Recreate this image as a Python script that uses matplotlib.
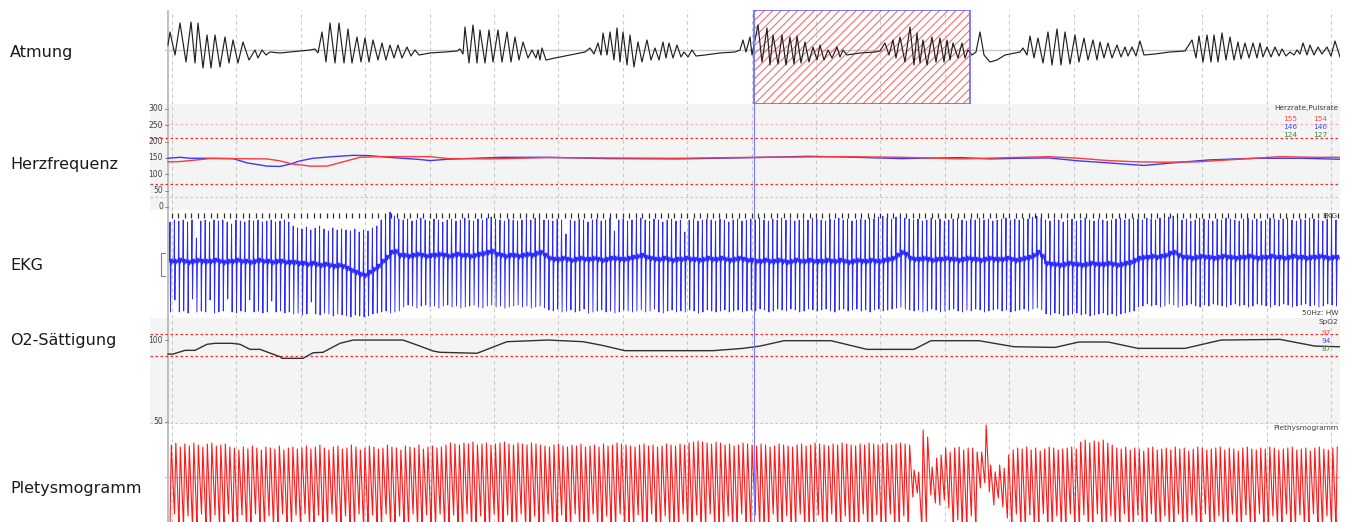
import matplotlib
matplotlib.use("Agg")
import matplotlib.pyplot as plt
import numpy as np
from matplotlib.patches import Rectangle

plt.rcParams['font.family'] = ['DejaVu Sans']
plt.rcParams['hatch.linewidth'] = 0.7

# ---------------- data (time axis in display samples) ----------------
panel_names = ["Atmung", "Herzfrequenz", "EKG", "O2-Sättigung", "Pletysmogramm"]

# respiration extrema (time, amplitude)
resp_t = [0,2,7,12,18,23,27,30,35,39,43,47,52,57,61,65,70,75,81,87,90,94,98,102,112,122,132,142,
          147,150,154,158,162,167,171,176,180,184,189,193,197,201,205,210,214,218,222,226,230,234,239,243,247,251,262,277,289,
          292,295,297,301,305,309,312,317,321,325,330,334,339,343,347,351,355,360,364,368,370,372,374,378,387,402,417,
          422,426,430,433,435,439,442,446,449,452,455,459,462,466,470,474,479,483,487,491,495,498,501,505,509,513,516,520,524,528,537,552,567,
          572,575,578,582,584,
          590,594,599,602,605,610,614,618,622,626,629,633,637,641,645,649,652,656,660,664,669,672,675,679,692,707,712,
          717,721,725,728,732,737,742,746,749,752,755,759,764,768,772,776,779,782,785,790,794,797,800,804,
          808,812,816,822,829,837,847,852,
          855,859,862,866,870,875,880,884,889,893,897,902,907,911,916,920,925,929,932,936,940,944,949,953,957,960,964,968,972,976,987,1002,1017,
          1024,1028,1031,1035,1039,1043,1046,1050,1054,1058,1062,1066,1070,1073,1077,1081,1085,1089,1092,1095,1099,1103,1107,1111,1114,1118,1122,1126,1129,1132,1135,1139,1142,1146,1150,1154,1159,1163,1167,1172]
resp_v = [5,18,-5,27,-12,28,-13,27,-18,15,-18,15,-17,13,-13,10,-13,8,-10,0,-8,0,-5,-2,-3,-2,-1,0,
          1,-3,18,-12,27,-13,27,-13,21,-13,13,-12,12,-12,10,-10,7,-10,5,-8,5,-8,3,-6,0,-5,-3,-2,-1,
          1,-4,23,-13,25,-13,20,-13,20,-12,20,-12,18,-12,13,-10,8,-8,0,-8,0,-10,2,-10,-8,-5,-2,
          2,-4,7,-5,17,-5,18,-10,22,-12,18,-15,15,-17,8,-12,10,-10,2,-10,8,-8,7,-8,5,-7,-2,-7,0,-6,-5,-3,-2,
          0,10,-2,13,-5,
          25,-12,22,-15,15,-14,15,-15,13,-14,14,-13,8,-12,3,-10,5,-10,0,-8,3,-7,0,-5,-3,-2,-1,
          7,-5,10,-8,13,-12,23,-15,17,-13,10,-15,13,-12,12,-12,10,-10,7,-8,7,-8,0,-5,
          -2,18,-5,-12,-10,-5,-3,-2,
          2,-5,14,-8,12,-13,18,-15,21,-15,18,-14,15,-12,12,-10,10,-10,8,-8,7,-8,5,-7,3,-6,3,-6,9,-5,-4,-2,-1,
          10,-8,14,-12,15,-12,15,-12,17,-10,13,-10,8,-9,7,-8,7,-8,7,-7,3,-7,3,-6,1,-6,-2,-5,0,-4,7,-5,5,-5,3,-4,3,-6,9,-7]

# heart rate (EKG-derived, blue) and pulse rate (red), bpm
hr_t = [0,12,22,45,65,79,99,112,122,132,145,165,185,202,212,229,249,262,280,333,380,439,510,586,640,675,734,793,822,852,881,911,940,976,1005,1041,1088,1135,1172]
hr_v = [149,152,149,149,148,135,125,124,131,141,149,154,158,157,154,150,146,142,146,152,152,148,147,151,155,153,148,151,147,149,150,141,135,127,135,144,149,149,146]
pr_t = [0,12,29,42,65,99,112,125,135,142,159,175,192,212,239,262,280,321,380,439,510,586,640,675,734,793,828,881,911,940,970,999,1029,1076,1112,1147,1172]
pr_v = [138,139,144,148,148,147,141,131,128,125,125,138,152,154,154,154,148,147,151,150,149,152,153,154,152,147,150,154,149,142,138,137,138,147,154,152,152]
hr_limits = [210, 70]
hr_soft_limits = [255, 30]
hr_ticks = [0, 50, 100, 150, 200, 250, 300]
hr_stats = [("155", "154", "#ff4a4a"), ("146", "146", "#4a4aff"), ("124", "127", "#3a8a3a")]

# EKG per beat: R top, S bottom, baseline level
ekg_top = ([42,44,43,44,42,44,26,43,44,42,44,43,44,42,40,44,43,42,44,43,44,42,43,44,42,43,44,42]
           + [38,36,35,37,34,36,38,35,33,36,34,35]
           + [34,33,35,32,34,33,36,38]
           + [44,46,52,48,45]
           + [44,45,43,44,46,44,43,45,44,42,44,45,43,44,46,44,43,45,44,46,47,45,44,43,45,44,43,44,45,44,46,47,44]
           + [44,43,45,44,30,44,43,45,44,42,44,45,43,44,46,33,44,45,43,44,45,46,44,43,45,44,42,44,45,43,
              44,32,44,45,43,44,45,44,43,45,44,42,44,45,43,44]
           + [45,44,46,44,43,45,44,46,44,45,43,44,45,44,46,45,44,43,45,44,46,44,45,43,44,45,44,46,45,47,48,46,45]
           + [47,48,46,45]
           + [44,45,43,44,46,44,45,43,44,45,46,44,43,45,44,46,44,45,43,44,45,46,44,45,44,46,45]
           + [47,48,46]
           + [44,43,45,44,42,44,45,43,44,46,44,43,45,44,43,44,45,46,44,45,46]
           + [45,44,46,45,44,46,45,47,48,46,44,45,43,44,46,45,44,43,45,44,46,45,44,43,45,46,44,45,43,44,
              46,45,44,45,46,44,43,45,44,46,45,44,43,45,46,44])
ekg_bot = ([-48,-36,-48,-47,-49,-35,-48,-47,-48,-36,-49,-48,-47,-35,-48,-49,-47,-48,-36,-48,-47,-49,-48,-37,-48,-47,-49,-48]
           + [-50,-49,-51,-50,-38,-50,-51,-49,-50,-52,-50,-51]
           + [-52,-53,-51,-52,-53,-52,-50,-49]
           + [-48,-47,-49,-48,-47]
           + [-43,-41,-42,-44,-42,-41,-43,-42,-44,-42,-41,-43,-42,-44,-43,-42,-41,-43,-44,-42,-41,-43,-42,-44,-43,-42,-41,-43,-42,-44,-43,-42,-44]
           + [-46,-47,-45,-48,-47,-46,-48,-47,-45,-49,-48,-47,-46,-48,-47,-49,-48,-46,-47,-48,-47,-46,-48,-47,-45,-48,-49,-47,-46,-48,
              -47,-48,-46,-47,-49,-48,-46,-47,-48,-47,-46,-48,-47,-46,-48,-47]
           + [-46,-47,-45,-46,-48,-47,-45,-46,-47,-45,-46,-48,-47,-45,-46,-47,-46,-45,-47,-48,-46,-45,-47,-46,-45,-47,-46,-48,-46,-45,-47,-46,-45]
           + [-44,-43,-45,-46]
           + [-47,-46,-48,-47,-45,-46,-48,-47,-46,-45,-47,-48,-46,-47,-45,-46,-48,-47,-46,-45,-47,-46,-48,-47,-46,-45,-47]
           + [-45,-44,-46]
           + [-50,-51,-49,-50,-52,-51,-50,-49,-51,-50,-52,-51,-50,-49,-51,-50,-52,-50,-49,-48,-47]
           + [-43,-42,-40,-42,-41,-43,-42,-40,-41,-43,-42,-41,-40,-42,-43,-41,-42,-40,-41,-42,-43,-41,-40,-42,-41,-43,-42,-40,-41,-42,
              -43,-41,-42,-40,-41,-43,-42,-41,-40,-42,-41,-43,-42,-40,-41,-42])
ekg_base = ([2,2,3,2,1,2,3,2,2,2,3,2,1,2,2,3,2,2,1,2,3,2,2,1,2,2,1,1]
            + [1,0,0,-1,0,-1,-2,-1,-2,-3,-2,-3]
            + [-5,-7,-9,-11,-12,-9,-6,-3]
            + [2,6,11,12,8]
            + [8,7,8,9,8,7,8,8,9,8,7,8,9,8,8,7,8,9,10,11,12,9,8,7,8,8,7,8,9,8,10,11,8]
            + [5,4,4,5,4,3,4,5,4,4,5,4,3,4,5,5,4,4,5,6,7,8,6,5,4,4,5,4,3,4,4,5,4,4,3,4,5,4,4,5,4,3,4,5,4,3]
            + [3,2,2,3,2,2,3,2,1,2,3,2,2,3,2,2,2,3,2,2,3,2,1,2,3,2,2,3,2,2,3,4,5]
            + [8,11,9,5]
            + [4,4,5,4,3,4,4,5,4,4,3,4,5,4,4,3,4,5,4,4,4,5,4,3,4,5,6]
            + [8,11,7]
            + [0,-1,-1,-2,-1,0,-1,-1,-2,-1,0,-1,-1,-1,0,-1,-2,-1,0,1,3]
            + [5,6,6,7,6,7,8,10,11,8,6,6,5,6,7,6,6,5,6,7,6,6,5,6,6,7,6,5,6,6,7,6,6,5,6,7,6,6,5,6,6,7,6,5,6,6])
ekg_span = (2, 1168)

# SpO2 (%)
spo2_t = [0,5,17,27,39,47,64,72,82,92,112,114,135,145,155,172,185,235,252,265,272,309,339,380,415,433,457,545,575,592,
          616,663,699,746,763,811,846,887,911,940,970,1017,1053,1112,1147,1172]
spo2_v = [91.4,91.4,93.7,93.7,97.4,98.0,98.0,97.4,94.3,94.3,89.8,88.8,88.8,92.2,92.5,98.0,100,100,96.3,93.3,
          92.5,91.9,99.0,100,99.0,96.9,93.5,93.5,94.9,96.3,99.6,99.6,94.3,94.3,99.6,99.6,95.9,95.5,98.8,98.8,
          94.9,94.9,100,100.4,96.3,95.9]
spo2_limits = [103.7, 90.2]
spo2_ticks = [50, 100]
spo2_stats = [("97", "#ff4a4a"), ("94", "#4a4aff"), ("87", "#3a8a3a")]

# plethysmogram per pulse: peak and trough
pleth_top = ([33,35,31,34,32,35,33,31,34,35,32,33,34,31]
             + [30,28,31,29,32,30,28,31,30,29,32,28,30,31,29]
             + [30,32,29,31,33,30,28,31,32,29,30,33,31,28,30,32,31,29,30,33,31,30,28,32,31,30,33,29,31,32,30,31]
             + [33,35,34,33,35,34,36,33,34,35,33,34,35,36,34,33,35,34,33,35,34,33]
             + [32,31,33,34,32,31,33,32,34,31,32,33,31,34,32,33,35,34,33,32,31,33,34,32,33,31,32,34,33,32,
                34,33,35,36,37,36,35,34,36,35,33,34,32,33,35,34,33,32,34,33,31,32,34,33,32,31,33,34,32,33,
                35,34,33,32,34,33,35,34,33,32,34,33,35,34,33,34,35,33,34,35,34,33]
             + [8,6,48,41,11,20,23,30,26,30,31,28,30,30,26,26,53,13,6,13,10,23]
             + [28,30,29,31,28,30,27,29,31,30,28,29,30,31,29,36,38,35,37,36,38,35,33,30,29,31,28,30,29,27,
                30,31,28,29,30,28,31,29,30,27,29,31,30,28,29,30,31,28,30,29,27,30,31,29,28,30,29,31,30,28,
                29,30,31,28,29,30,27,30,31,29,28,30,31])
pleth_bot = ([-50,-36,-50,-50,-38,-50,-50,-36,-50,-50,-37,-50,-50,-36]
             + [-50,-50,-37,-50,-50,-36,-50,-50,-38,-50,-50,-36,-50,-50,-37]
             + [-50,-36,-50,-50,-37,-50,-50,-36,-50,-50,-38,-50,-50,-36,-50,-50,-37,-50,-50,-36,-50,-50,-38,-50,-50,-36,-50,-50,-37,-50,-50,-36]
             + [-50,-50,-37,-50,-50,-36,-50,-50,-38,-50,-50,-36,-50,-50,-37,-50,-50,-36,-50,-50,-38,-50]
             + [-50,-36,-50,-50,-37,-50,-50,-36,-50,-50,-50,-36,-50,-50,-38,-50,-50,-36,-50,-50,
                -50,-37,-50,-50,-36,-50,-50,-38,-50,-50,-50,-36,-50,-50,-37,-50,-50,-36,-50,-50,
                -50,-38,-50,-50,-36,-50,-50,-37,-50,-50,-50,-36,-50,-50,-38,-50,-50,-36,-50,-50,
                -50,-37,-50,-50,-36,-50,-50,-38,-50,-50,-50,-36,-50,-50,-37,-50,-50,-36,-50,-50,-38,-50]
             + [-19,-15,-50,-45,-17,-25,-27,-22,-30,-50,-42,-50,-50,-38,-50,-10,-5,-14,-27,-20,-29,-40]
             + [-50,-36,-50,-50,-37,-50,-50,-36,-50,-50,-38,-50,-50,-36,-50,-50,-37,-50,-50,-36,
                -50,-50,-38,-50,-50,-36,-50,-50,-37,-50,-50,-36,-50,-50,-38,-50,-50,-36,-50,-50,
                -37,-50,-50,-36,-50,-50,-38,-50,-50,-36,-50,-50,-37,-50,-50,-36,-50,-50,-38,-50,
                -50,-36,-50,-50,-37,-50,-50,-36,-50,-50,-38,-50,-50])
pleth_span = (2, 1168)

selection = (586, 802)       # hatched scoring window
cursor_t = 586

# ---------------- layout ----------------
W, H = 1348, 522
fig = plt.figure(figsize=(W / 100, H / 100), dpi=100)
fig.patch.set_facecolor("white")
GRID_C = "#c9c9c9"
BG = "#f4f4f4"
grid_pos = np.arange(4, 1172, 64.4)
sec_ticks = np.arange(4, 1172, 6.44)


def make_ax(top, bottom, bg, ylim):
    ax = fig.add_axes([150 / W, 1 - bottom / H, 1190 / W, (bottom - top) / H])
    ax.set_facecolor(bg)
    ax.set_xlim(-18, 1172)
    ax.set_ylim(*ylim)
    for s in ax.spines.values():
        s.set_visible(False)
    ax.set_xticks([])
    ax.set_yticks([])
    for g in grid_pos:
        ax.axvline(g, color=GRID_C, lw=0.8, ls=(0, (3, 3)), zorder=0.5)
    ax.axvline(0, color="#b4b4b4", lw=1.2, zorder=0.6)
    return ax


ax1 = make_ax(10, 104, "white", (-54, 40))
ax2 = make_ax(104, 210, BG, (-9.2, 315))
ax3 = make_ax(210, 318, "white", (-54, 54))
ax4 = make_ax(318, 424, BG, (48.6, 113.5))
ax5 = make_ax(424, 522, "white", (-44, 54))

# ---- Atmung ----
ax1.plot([-3, 1172], [0, 0], color="#c8c8c8", lw=1, zorder=0.7)
ax1.plot(resp_t, resp_v, color="#202020", lw=0.85, zorder=3, solid_joinstyle="round")
ax1.add_patch(Rectangle((selection[0], -54), selection[1] - selection[0], 94,
                        fill=False, hatch="////", edgecolor="#ff5a5a", lw=0, zorder=2))
ax1.add_patch(Rectangle((selection[0], -53.5), selection[1] - selection[0], 93.5,
                        fill=False, edgecolor="#5a5aff", lw=1.1, zorder=4))

# ---- Herzfrequenz ----
for v in hr_soft_limits:
    ax2.axhline(v, color="#ffb4b4", lw=0.9, ls=(0, (2, 2)), zorder=1)
for v in hr_limits:
    ax2.axhline(v, color="#ff2a2a", lw=0.9, ls=(0, (2, 2)), zorder=1)
for v in hr_ticks:
    ax2.text(-5, v, str(v), ha="right", va="center", fontsize=5.5, color="#404040")
    ax2.plot([-3, 0], [v, v], color="#808080", lw=0.6)
ax2.plot(hr_t, hr_v, color="#3a3aff", lw=1.0, zorder=3)
ax2.plot(pr_t, pr_v, color="#ff3a3a", lw=1.0, zorder=3)

# ---- EKG ----
n_beats = len(ekg_top)
beat_t = np.linspace(ekg_span[0], ekg_span[1], n_beats)
ex, ey = [], []
for t, top, bot, b in zip(beat_t, ekg_top, ekg_bot, ekg_base):
    ex += [t - 0.5, t, t + 0.5, t + 1.1, t + 1.8, t + 2.6, t + 3.4]
    ey += [b, top, bot, b + 3, b - 2, b + 3, b - 1]
ax3.plot(ex, ey, color="#2a2aff", lw=0.65, zorder=3)
ax3.vlines(sec_ticks, 46, 51, color="#303030", lw=0.9, zorder=4)
ax3.plot([-3, -7.5, -7.5, -3], [-12, -12, 11, 11], color="#808080", lw=0.8)

# ---- O2-Sättigung ----
ax4.axhline(spo2_limits[0], color="#ff2a2a", lw=0.9, ls=(0, (2, 2)), zorder=1)
ax4.axhline(spo2_limits[1], color="#ff2a2a", lw=0.9, ls=(0, (2, 2)), zorder=1)
ax4.axhline(49.2, color="#ffb4b4", lw=0.9, ls=(0, (2, 2)), zorder=1)
for v in spo2_ticks:
    ax4.text(-5, v, str(v), ha="right", va="center", fontsize=5.5, color="#404040")
    ax4.plot([-3, 0], [v, v], color="#808080", lw=0.6)
ax4.plot(spo2_t, spo2_v, color="#303030", lw=1.0, zorder=3)

# ---- Pletysmogramm ----
ax5.plot([-3, 1172], [1, 1], color="#c8c8c8", lw=1, zorder=0.7)
n_pulse = len(pleth_top)
pulse_t = np.linspace(pleth_span[0], pleth_span[1], n_pulse)
px_, py_ = [], []
for t, top, bot in zip(pulse_t, pleth_top, pleth_bot):
    px_ += [t, t + 1.3]
    py_ += [bot, top]
ax5.plot(px_, py_, color="#ff1a1a", lw=0.8, zorder=3)

# cursor line through all panels
for ax in (ax1, ax2, ax3, ax4, ax5):
    ax.axvline(cursor_t, color="#7a7aff", lw=0.8, zorder=5)

# ---- left channel names ----
for name, y in zip(panel_names, [52, 165, 266, 340, 488]):
    fig.text(10 / W, 1 - y / H, name, fontsize=11.5, color="#1a1a1a", ha="left", va="center")

# ---- right-side annotations ----
def ftext(x, y, s, color="#404040", ha="right"):
    fig.text(x / W, 1 - y / H, s, fontsize=5.3, color=color, ha=ha, va="center")

ftext(1338, 108, "Herzrate,Pulsrate")
for i, (a, b, c) in enumerate(hr_stats):
    ftext(1297, 119 + 8 * i, a, c)
    ftext(1327, 119 + 8 * i, b, c)
ftext(1337, 216, "EKG")
ftext(1338, 313, "50Hz: HW")
ftext(1338, 322, "SpO2")
for i, (a, c) in enumerate(spo2_stats):
    ftext(1331, 333 + 8 * i, a, c)
ftext(1338, 428, "Plethysmogramm")

fig.savefig("out.png", dpi=100, facecolor="white")
